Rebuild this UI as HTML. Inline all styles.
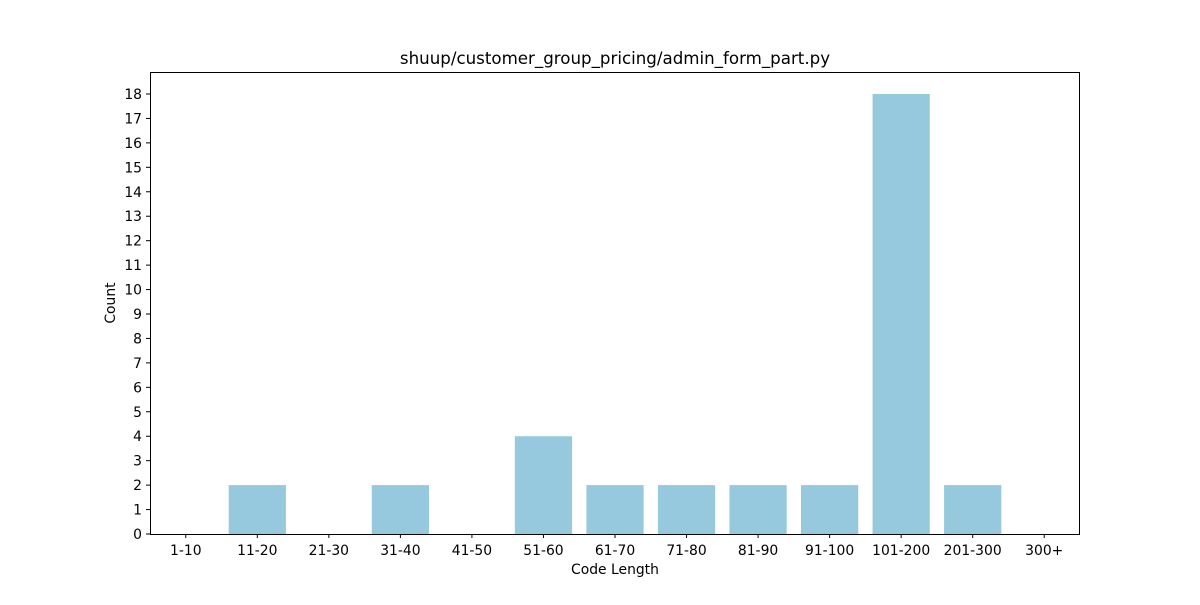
<!DOCTYPE html>
<html><head><meta charset="utf-8"><style>
body{margin:0;background:#fff;}
svg text{font-family:"DejaVu Sans","Liberation Sans",sans-serif;fill:#000;}
</style></head><body>
<svg id="chart" width="1200" height="600">
<text x="615" y="64" font-size="16.67" text-anchor="middle">shuup/customer_group_pricing/admin_form_part.py</text>
<g id="bars"></g>
<g id="axes"></g>
<rect x="150.5" y="72.5" width="929" height="462" fill="none" stroke="#000" stroke-width="1"/>
<text x="615" y="574" font-size="13.9" text-anchor="middle">Code Length</text>
<text x="115" y="303" font-size="13.9" text-anchor="middle" transform="rotate(-90 115 303)">Count</text>
</svg>
<script>
const categories=["1-10","11-20","21-30","31-40","41-50","51-60","61-70","71-80","81-90","91-100","101-200","201-300","300+"];
const counts=[0,2,0,2,0,4,2,2,2,2,18,2,0];
const yTicks=[0,1,2,3,4,5,6,7,8,9,10,11,12,13,14,15,16,17,18];
const L=150,R=1080,T=72,B=534;
const ymax=Math.max(...counts)*1.05;
const xmin=-0.5,xmax=categories.length-0.5;
const xs=i=>L+(i-xmin)/(xmax-xmin)*(R-L);
const ys=v=>B-v/ymax*(B-T);
const NS="http://www.w3.org/2000/svg";
const bars=document.getElementById('bars'),axes=document.getElementById('axes');
function mk(t,a,p){const e=document.createElementNS(NS,t);for(const k in a)e.setAttribute(k,a[k]);p.appendChild(e);return e;}
const bw=0.8*(R-L)/(xmax-xmin);
counts.forEach((v,i)=>{
 const r=mk('rect',{x:xs(i)-bw/2,y:ys(v),width:bw,height:B-ys(v),fill:'#96c9dd'},bars);
 
 
});
categories.forEach((c,i)=>{
 const x=xs(i);
 const l=mk('line',{x1:x,x2:x,y1:B,y2:B+4,stroke:'#000'},axes);
 
 
 const t=mk('text',{x:x,y:B+21,'font-size':13.9,'text-anchor':'middle'},axes);
 t.textContent=c;
 
 
});
yTicks.forEach(v=>{
 const y=ys(v);
 const l=mk('line',{x1:L-4,x2:L,y1:y,y2:y,stroke:'#000'},axes);
 
 
 const t=mk('text',{x:L-8,y:y+5,'font-size':13.9,'text-anchor':'end'},axes);
 t.textContent=v;
 
 
});
</script>
</body></html>
